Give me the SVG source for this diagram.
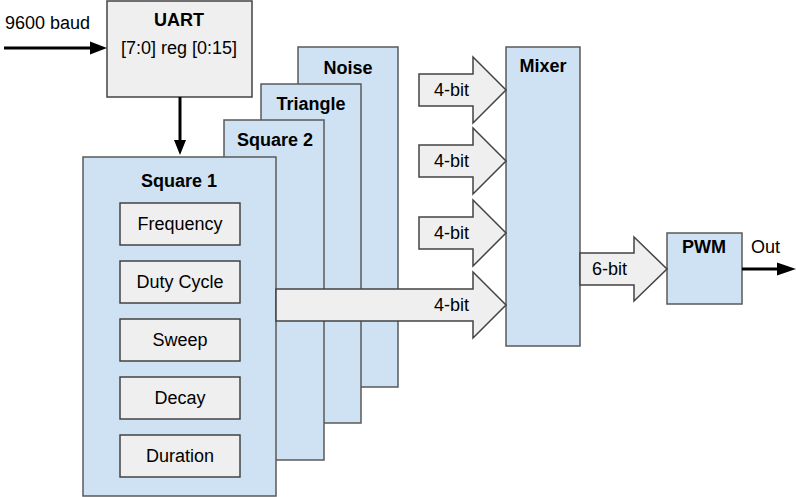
<svg xmlns="http://www.w3.org/2000/svg" width="796" height="497" viewBox="0 0 796 497">
<defs>
<style>
text{font-family:"Liberation Sans",Arial,sans-serif;font-size:18px;fill:#000}
.b{font-weight:bold}
.m{text-anchor:middle}
.blue{fill:#cfe2f3;stroke:#595959;stroke-width:1.5}
.grey{fill:#efefef;stroke:#434343;stroke-width:1.5}
.ln{stroke:#000;stroke-width:3;fill:none}
.hd{fill:#000}
</style>
</defs>
<rect width="796" height="497" fill="#fff"/>
<g id="noise"><rect class="blue" x="298" y="47" width="100" height="340"/><text class="b m" x="348" y="74">Noise</text></g>
<g id="triangle"><rect class="blue" x="261" y="84" width="100" height="339"/><text class="b m" x="311" y="110">Triangle</text></g>
<g id="square2"><rect class="blue" x="224" y="120" width="100" height="340"/><text class="b m" x="275" y="146">Square 2</text></g>
<g id="square1"><rect class="blue" x="83" y="157" width="193" height="339"/><text class="b m" x="179" y="187">Square 1</text>
<g id="frequency"><rect class="grey" x="120" y="203" width="120" height="42"/><text class="m" x="180" y="230">Frequency</text></g>
<g id="duty"><rect class="grey" x="120" y="261" width="120" height="42"/><text class="m" x="180" y="288">Duty Cycle</text></g>
<g id="sweep"><rect class="grey" x="120" y="319" width="120" height="42"/><text class="m" x="180" y="346">Sweep</text></g>
<g id="decay"><rect class="grey" x="120" y="377" width="120" height="42"/><text class="m" x="180" y="404">Decay</text></g>
<g id="duration"><rect class="grey" x="120" y="435" width="120" height="42"/><text class="m" x="180" y="462">Duration</text></g>
</g>
<g id="uart"><rect class="grey" x="107" y="1" width="145" height="96"/><text class="b m" x="179" y="26">UART</text><text class="m" x="179" y="54">[7:0] reg [0:15]</text></g>
<g id="mixer"><rect class="blue" x="506" y="47" width="74" height="299"/><text class="b m" x="543" y="72">Mixer</text></g>
<g id="pwm"><rect class="blue" x="667" y="233" width="75" height="71"/><text class="b m" x="704" y="253">PWM</text></g>
<g id="connectors">
<line class="ln" x1="4" y1="48" x2="92" y2="48"/><polygon class="hd" points="90,41.5 107,48 90,54.5"/>
<text x="5" y="29">9600 baud</text>
<line class="ln" x1="180" y1="97" x2="180" y2="142"/><polygon class="hd" points="174,140 186,140 180,155"/>
<line class="ln" x1="742" y1="269" x2="780" y2="269"/><polygon class="hd" points="777,262.5 796,269 777,275.5"/>
<text x="751" y="253">Out</text>
<g id="a1"><polygon class="grey" points="419,74 473,74 473,57 506,90 473,123 473,106 419,106"/><text x="434" y="96">4-bit</text></g>
<g id="a2"><polygon class="grey" points="419,145 473,145 473,128 506,161 473,194 473,177 419,177"/><text x="434" y="167">4-bit</text></g>
<g id="a3"><polygon class="grey" points="419,217 473,217 473,200 506,233 473,266 473,249 419,249"/><text x="434" y="239">4-bit</text></g>
<g id="a4"><polygon class="grey" points="276,289 473,289 473,272 506,305 473,338 473,321 276,321"/><text x="434" y="311">4-bit</text></g>
<g id="a5"><polygon class="grey" points="580,253 634,253 634,237 667,269 634,301 634,285 580,285"/><text x="592" y="275">6-bit</text></g>
</g>
</svg>
